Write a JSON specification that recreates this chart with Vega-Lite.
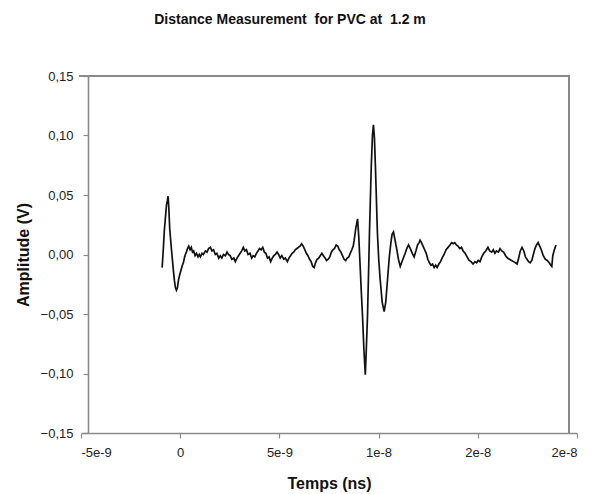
{
  "$schema": "https://vega.github.io/schema/vega-lite/v6.json",
  "autosize": "none",
  "width": 496,
  "height": 357,
  "padding": {"left": 81, "top": 76, "right": 23, "bottom": 61},
  "background": "white",
  "title": {
    "text": "Distance Measurement\u00a0\u00a0for PVC at\u00a0\u00a01.2 m",
    "font": "Liberation Sans",
    "fontSize": 14,
    "fontWeight": "bold",
    "color": "#111",
    "anchor": "middle",
    "offset": 43,
    "dx": -39
  },
  "config": {
    "view": {"stroke": null},
    "axis": {
      "domainColor": "#8a8a8a",
      "tickColor": "#8a8a8a",
      "domainWidth": 1.6,
      "tickWidth": 1.2,
      "tickSize": 5,
      "grid": false,
      "labelFont": "Liberation Sans",
      "labelFontSize": 13,
      "labelColor": "#222",
      "titleFont": "Liberation Sans",
      "titleFontSize": 16,
      "titleFontWeight": "bold",
      "titleColor": "#111"
    }
  },
  "data": {
    "values": [
      {"t": -0.91, "v": -0.011}, {"t": -0.85, "v": 0.005}, {"t": -0.80, "v": 0.020}, {"t": -0.74, "v": 0.032},
      {"t": -0.69, "v": 0.042}, {"t": -0.65, "v": 0.045}, {"t": -0.61, "v": 0.049}, {"t": -0.57, "v": 0.038},
      {"t": -0.53, "v": 0.022}, {"t": -0.46, "v": 0.008}, {"t": -0.39, "v": -0.005}, {"t": -0.34, "v": -0.014},
      {"t": -0.29, "v": -0.022}, {"t": -0.24, "v": -0.028}, {"t": -0.19, "v": -0.030}, {"t": -0.14, "v": -0.028},
      {"t": -0.09, "v": -0.022}, {"t": -0.04, "v": -0.018}, {"t": 0.01, "v": -0.015}, {"t": 0.06, "v": -0.012},
      {"t": 0.11, "v": -0.009}, {"t": 0.16, "v": -0.007}, {"t": 0.21, "v": -0.003}, {"t": 0.26, "v": 0.000},
      {"t": 0.31, "v": 0.002}, {"t": 0.37, "v": 0.005}, {"t": 0.43, "v": 0.007}, {"t": 0.50, "v": 0.004},
      {"t": 0.56, "v": 0.006}, {"t": 0.62, "v": 0.002}, {"t": 0.68, "v": 0.003}, {"t": 0.75, "v": -0.001},
      {"t": 0.82, "v": 0.001}, {"t": 0.90, "v": -0.002}, {"t": 0.96, "v": 0.000}, {"t": 1.02, "v": -0.002},
      {"t": 1.10, "v": 0.001}, {"t": 1.17, "v": 0.000}, {"t": 1.27, "v": 0.003}, {"t": 1.35, "v": 0.002},
      {"t": 1.43, "v": 0.005}, {"t": 1.52, "v": 0.006}, {"t": 1.60, "v": 0.003}, {"t": 1.68, "v": 0.004},
      {"t": 1.77, "v": 0.000}, {"t": 1.85, "v": 0.001}, {"t": 1.94, "v": -0.003}, {"t": 2.02, "v": -0.001},
      {"t": 2.10, "v": -0.003}, {"t": 2.18, "v": 0.000}, {"t": 2.28, "v": -0.001}, {"t": 2.36, "v": 0.002},
      {"t": 2.43, "v": 0.000}, {"t": 2.52, "v": -0.001}, {"t": 2.60, "v": -0.004}, {"t": 2.70, "v": -0.003},
      {"t": 2.78, "v": -0.006}, {"t": 2.86, "v": -0.003}, {"t": 2.94, "v": -0.001}, {"t": 3.02, "v": 0.001},
      {"t": 3.10, "v": 0.003}, {"t": 3.18, "v": 0.006}, {"t": 3.26, "v": 0.003}, {"t": 3.34, "v": 0.004},
      {"t": 3.42, "v": 0.000}, {"t": 3.52, "v": 0.001}, {"t": 3.60, "v": -0.003}, {"t": 3.68, "v": -0.001},
      {"t": 3.76, "v": -0.002}, {"t": 3.84, "v": 0.001}, {"t": 3.92, "v": 0.003}, {"t": 4.00, "v": 0.005},
      {"t": 4.08, "v": 0.004}, {"t": 4.16, "v": 0.006}, {"t": 4.24, "v": 0.002}, {"t": 4.32, "v": 0.001},
      {"t": 4.40, "v": -0.003}, {"t": 4.48, "v": -0.002}, {"t": 4.56, "v": -0.006}, {"t": 4.64, "v": -0.003},
      {"t": 4.72, "v": -0.001}, {"t": 4.80, "v": 0.000}, {"t": 4.88, "v": 0.002}, {"t": 4.96, "v": 0.000},
      {"t": 5.04, "v": -0.003}, {"t": 5.12, "v": -0.001}, {"t": 5.22, "v": -0.004}, {"t": 5.30, "v": -0.003},
      {"t": 5.40, "v": -0.006}, {"t": 5.48, "v": -0.003}, {"t": 5.56, "v": -0.001}, {"t": 5.64, "v": 0.001},
      {"t": 5.72, "v": 0.002}, {"t": 5.80, "v": 0.004}, {"t": 5.88, "v": 0.005}, {"t": 5.96, "v": 0.006},
      {"t": 6.04, "v": 0.007}, {"t": 6.12, "v": 0.009}, {"t": 6.20, "v": 0.007}, {"t": 6.28, "v": 0.004},
      {"t": 6.36, "v": 0.001}, {"t": 6.44, "v": -0.001}, {"t": 6.52, "v": -0.004}, {"t": 6.60, "v": -0.006},
      {"t": 6.68, "v": -0.010}, {"t": 6.75, "v": -0.011}, {"t": 6.82, "v": -0.007}, {"t": 6.90, "v": -0.004},
      {"t": 6.98, "v": -0.003}, {"t": 7.06, "v": -0.001}, {"t": 7.14, "v": 0.001}, {"t": 7.22, "v": -0.001},
      {"t": 7.30, "v": -0.003}, {"t": 7.38, "v": -0.005}, {"t": 7.46, "v": -0.004}, {"t": 7.54, "v": -0.002},
      {"t": 7.62, "v": 0.002}, {"t": 7.70, "v": 0.004}, {"t": 7.78, "v": 0.005}, {"t": 7.86, "v": 0.008},
      {"t": 7.94, "v": 0.007}, {"t": 8.02, "v": 0.004}, {"t": 8.10, "v": 0.002}, {"t": 8.18, "v": -0.001},
      {"t": 8.26, "v": -0.004}, {"t": 8.34, "v": -0.005}, {"t": 8.42, "v": -0.003}, {"t": 8.50, "v": -0.002},
      {"t": 8.57, "v": 0.001}, {"t": 8.65, "v": 0.004}, {"t": 8.72, "v": 0.007}, {"t": 8.77, "v": 0.012},
      {"t": 8.85, "v": 0.022}, {"t": 8.94, "v": 0.030}, {"t": 9.00, "v": 0.015}, {"t": 9.07, "v": -0.010},
      {"t": 9.13, "v": -0.032}, {"t": 9.19, "v": -0.052}, {"t": 9.26, "v": -0.080}, {"t": 9.33, "v": -0.101},
      {"t": 9.38, "v": -0.080}, {"t": 9.44, "v": -0.052}, {"t": 9.49, "v": -0.018}, {"t": 9.54, "v": 0.018},
      {"t": 9.63, "v": 0.074}, {"t": 9.69, "v": 0.100}, {"t": 9.74, "v": 0.109}, {"t": 9.79, "v": 0.098},
      {"t": 9.84, "v": 0.074}, {"t": 9.94, "v": 0.018}, {"t": 10.01, "v": -0.005}, {"t": 10.08, "v": -0.021},
      {"t": 10.18, "v": -0.040}, {"t": 10.28, "v": -0.048}, {"t": 10.36, "v": -0.040}, {"t": 10.45, "v": -0.021},
      {"t": 10.54, "v": -0.002}, {"t": 10.62, "v": 0.010}, {"t": 10.68, "v": 0.017}, {"t": 10.75, "v": 0.019},
      {"t": 10.83, "v": 0.012}, {"t": 10.92, "v": 0.004}, {"t": 11.00, "v": -0.004}, {"t": 11.09, "v": -0.010},
      {"t": 11.20, "v": -0.005}, {"t": 11.34, "v": 0.001}, {"t": 11.42, "v": 0.005}, {"t": 11.51, "v": 0.008},
      {"t": 11.60, "v": 0.005}, {"t": 11.70, "v": 0.001}, {"t": 11.79, "v": -0.002}, {"t": 11.88, "v": 0.003},
      {"t": 11.96, "v": 0.008}, {"t": 12.04, "v": 0.010}, {"t": 12.09, "v": 0.012}, {"t": 12.16, "v": 0.010},
      {"t": 12.24, "v": 0.007}, {"t": 12.32, "v": 0.004}, {"t": 12.40, "v": 0.001}, {"t": 12.48, "v": -0.004},
      {"t": 12.56, "v": -0.007}, {"t": 12.64, "v": -0.009}, {"t": 12.72, "v": -0.008}, {"t": 12.80, "v": -0.011},
      {"t": 12.88, "v": -0.009}, {"t": 12.95, "v": -0.011}, {"t": 13.04, "v": -0.008}, {"t": 13.12, "v": -0.006},
      {"t": 13.20, "v": -0.003}, {"t": 13.30, "v": 0.000}, {"t": 13.40, "v": 0.004}, {"t": 13.50, "v": 0.006},
      {"t": 13.60, "v": 0.008}, {"t": 13.68, "v": 0.010}, {"t": 13.76, "v": 0.009}, {"t": 13.84, "v": 0.010},
      {"t": 13.92, "v": 0.008}, {"t": 14.00, "v": 0.007}, {"t": 14.10, "v": 0.005}, {"t": 14.18, "v": 0.006},
      {"t": 14.26, "v": 0.003}, {"t": 14.36, "v": 0.001}, {"t": 14.46, "v": -0.002}, {"t": 14.56, "v": -0.005},
      {"t": 14.66, "v": -0.006}, {"t": 14.76, "v": -0.008}, {"t": 14.86, "v": -0.006}, {"t": 14.94, "v": -0.007},
      {"t": 15.02, "v": -0.005}, {"t": 15.11, "v": -0.006}, {"t": 15.20, "v": -0.002}, {"t": 15.30, "v": 0.001},
      {"t": 15.40, "v": 0.003}, {"t": 15.51, "v": 0.006}, {"t": 15.60, "v": 0.003}, {"t": 15.70, "v": 0.002},
      {"t": 15.78, "v": 0.004}, {"t": 15.86, "v": 0.001}, {"t": 15.94, "v": 0.003}, {"t": 16.04, "v": 0.002},
      {"t": 16.12, "v": 0.005}, {"t": 16.21, "v": 0.003}, {"t": 16.30, "v": 0.002}, {"t": 16.40, "v": -0.001},
      {"t": 16.50, "v": -0.003}, {"t": 16.60, "v": -0.004}, {"t": 16.70, "v": -0.005}, {"t": 16.80, "v": -0.006},
      {"t": 16.90, "v": -0.007}, {"t": 16.98, "v": -0.008}, {"t": 17.06, "v": -0.003}, {"t": 17.14, "v": 0.003},
      {"t": 17.23, "v": 0.006}, {"t": 17.32, "v": 0.003}, {"t": 17.40, "v": -0.002}, {"t": 17.48, "v": -0.004},
      {"t": 17.56, "v": -0.006}, {"t": 17.64, "v": -0.007}, {"t": 17.72, "v": -0.005}, {"t": 17.80, "v": 0.000},
      {"t": 17.88, "v": 0.005}, {"t": 17.96, "v": 0.008}, {"t": 18.04, "v": 0.010}, {"t": 18.12, "v": 0.007},
      {"t": 18.20, "v": 0.004}, {"t": 18.30, "v": -0.001}, {"t": 18.40, "v": -0.004}, {"t": 18.50, "v": -0.005},
      {"t": 18.60, "v": -0.007}, {"t": 18.68, "v": -0.009}, {"t": 18.73, "v": -0.010}, {"t": 18.78, "v": -0.001},
      {"t": 18.86, "v": 0.004}, {"t": 18.94, "v": 0.008}
    ]
  },
  "layer": [
    {
      "mark": {"type": "rule", "color": "#8a8a8a", "strokeWidth": 1.6, "clip": false},
      "encoding": {
        "x": {"datum": -5.08, "type": "quantitative"},
        "x2": {"datum": 19.6},
        "y": {"datum": 0.15, "type": "quantitative"}
      }
    },
    {
      "mark": {"type": "rule", "color": "#8a8a8a", "strokeWidth": 1.6},
      "encoding": {
        "x": {"datum": 19.6, "type": "quantitative"},
        "y": {"datum": 0.15, "type": "quantitative"},
        "y2": {"datum": -0.15}
      }
    },
    {
      "mark": {"type": "line", "color": "#111", "strokeWidth": 1.7, "interpolate": "linear"},
      "encoding": {
        "x": {
          "field": "t",
          "type": "quantitative",
          "scale": {"domain": [-5, 20], "nice": false, "zero": false},
          "axis": {
            "title": "Temps (ns)",
            "values": [-5, 0, 5, 10, 15, 20],
            "labelExpr": "datum.value < -1 ? '-5e-9' : datum.value < 1 ? '0' : datum.value < 6 ? '5e-9' : datum.value < 11 ? '1e-8' : '2e-8'",
            "labelPadding": 8,
            "titlePadding": 16
          }
        },
        "y": {
          "field": "v",
          "type": "quantitative",
          "scale": {"domain": [-0.15, 0.15], "nice": false, "zero": false},
          "axis": {
            "title": "Amplitude (V)",
            "values": [-0.15, -0.1, -0.05, 0, 0.05, 0.1, 0.15],
            "labelExpr": "replace(format(datum.value, '.2f'), '.', ',')",
            "offset": -7,
            "labelPadding": 10,
            "titlePadding": 9
          }
        }
      }
    }
  ]
}
